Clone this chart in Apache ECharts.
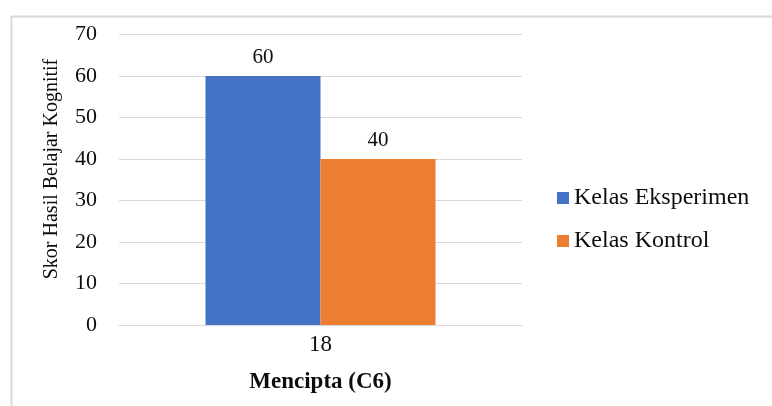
<!DOCTYPE html>
<html>
<head>
<meta charset="utf-8">
<script src="https://cdn.jsdelivr.net/npm/echarts@6/dist/echarts.min.js"></script>
<style>html,body{margin:0;padding:0;background:#fff}#c{width:772px;height:406px}</style>
</head>
<body>
<div id="c"></div>
<script>
var categories = ['18'];
var seriesNames = ['Kelas Eksperimen', 'Kelas Kontrol'];
var eksperimen = [60];
var kontrol = [40];
var xAxisTitle = 'Mencipta (C6)';
var yAxisTitle = 'Skor Hasil Belajar Kognitif';

var FONT = '"Liberation Serif", "Times New Roman", serif';
var TXT = '#0d0d0d';
var chart = echarts.init(document.getElementById('c'), null, {renderer: 'canvas'});
chart.setOption({
  animation: false,
  backgroundColor: '#fff',
  textStyle: {fontFamily: FONT, color: TXT},
  graphic: [
    {type: 'rect', left: 9, top: 14, shape: {width: 800, height: 500}, style: {fill: 'none', stroke: '#d9d9d9', lineWidth: 2}, silent: true, z: -1},
    {type: 'text', x: 52, y: 169, rotation: Math.PI / 2,
     style: {text: yAxisTitle, font: '20px ' + FONT, fill: TXT, align: 'center', verticalAlign: 'middle'}}
  ],
  grid: {left: 119, top: 34.5, width: 403, bottom: 81, containLabel: false},
  legend: {
    orient: 'vertical', left: 552, top: 181, icon: 'rect', itemWidth: 12, itemHeight: 12, itemGap: 19,
    textStyle: {fontFamily: FONT, fontSize: 24, color: TXT},
    data: seriesNames
  },
  xAxis: {
    type: 'category', data: categories,
    axisLine: {lineStyle: {color: '#d9d9d9', width: 1}},
    axisTick: {show: false},
    axisLabel: {fontFamily: FONT, fontSize: 23, color: TXT, margin: 8},
    name: xAxisTitle, nameLocation: 'middle', nameGap: 46,
    nameTextStyle: {fontFamily: FONT, fontSize: 23, fontWeight: 'bold', color: TXT}
  },
  yAxis: {
    type: 'value', min: 0, max: 70, interval: 10,
    axisLine: {show: false}, axisTick: {show: false},
    splitLine: {lineStyle: {color: '#d9d9d9', width: 1}},
    axisLabel: {fontFamily: FONT, fontSize: 22, color: TXT, margin: 22}
  },
  series: [
    {name: seriesNames[0], type: 'bar', data: eksperimen, barWidth: 115, barGap: '0%',
     itemStyle: {color: '#4472C4'},
     label: {show: true, position: 'top', distance: 8, fontFamily: FONT, fontSize: 21, color: TXT}},
    {name: seriesNames[1], type: 'bar', data: kontrol, barWidth: 115, barGap: '0%',
     itemStyle: {color: '#ED7D31'},
     label: {show: true, position: 'top', distance: 8, fontFamily: FONT, fontSize: 21, color: TXT}}
  ]
});
</script>
</body>
</html>
